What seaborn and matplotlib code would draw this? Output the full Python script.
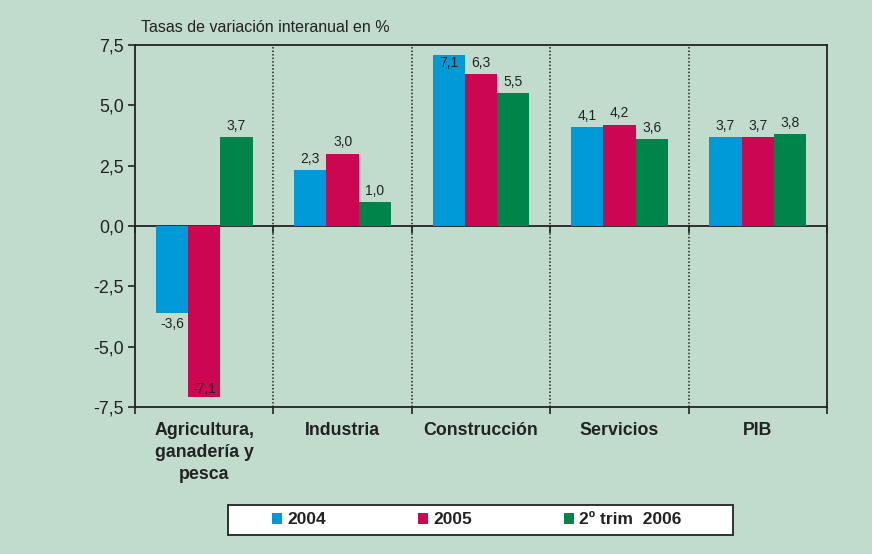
import pandas as pd
import matplotlib.pyplot as plt
import seaborn as sns
from matplotlib.patches import Rectangle
from matplotlib.ticker import FuncFormatter, FixedLocator

sns.set_theme(style="white")
plt.rcParams['font.family'] = ['Liberation Sans', 'DejaVu Sans']

# Data
categories = ["Agricultura,\nganadería y\npesca", "Industria", "Construcción", "Servicios", "PIB"]
series = ["2004", "2005", "2º trim  2006"]
v2004 = [-3.6, 2.3, 7.1, 4.1, 3.7]
v2005 = [-7.1, 3.0, 6.3, 4.2, 3.7]
v2006 = [3.7, 1.0, 5.5, 3.6, 3.8]
colors = ["#0099d8", "#cc0651", "#00844a"]

bg = "#c1dccc"
ink = "#222222"

df = pd.DataFrame({
    "Sector": categories * 3,
    "Serie": [series[0]] * 5 + [series[1]] * 5 + [series[2]] * 5,
    "Valor": v2004 + v2005 + v2006,
})

fig = plt.figure(figsize=(8.72, 5.54), dpi=100, facecolor=bg)
ax = fig.add_axes([135 / 872, 1 - 407 / 554, 692 / 872, 362 / 554])
ax.set_facecolor(bg)

sns.barplot(data=df, x="Sector", y="Valor", hue="Serie", hue_order=series,
            order=categories, palette=colors, saturation=1, width=0.7,
            linewidth=0, errorbar=None, ax=ax)

ymin, ymax = -7.5, 7.5
ax.set_ylim(ymin, ymax)
ax.set_xlim(-0.5, len(categories) - 0.5)

# value labels (inside the bar when it would run past the frame)
for cont in ax.containers:
    for bar in cont:
        h = bar.get_height()
        xc = bar.get_x() + bar.get_width() / 2
        txt = f"{h:.1f}".replace(".", ",")
        if h >= 0 and h + 0.8 > ymax:
            off, va = -1, "top"
        elif h >= 0:
            off, va = 3, "bottom"
        elif h - 0.8 < ymin:
            off, va = 1, "bottom"
        else:
            off, va = -3, "top"
        ax.annotate(txt, (xc, h), xytext=(0, off), textcoords="offset points",
                    ha="center", va=va, fontsize=10, color=ink)

# y axis
ax.yaxis.set_major_locator(FixedLocator([-7.5, -5, -2.5, 0, 2.5, 5, 7.5]))
ax.yaxis.set_major_formatter(FuncFormatter(lambda v, p: f"{v:.1f}".replace(".", ",")))
ax.tick_params(axis="y", direction="out", length=5, width=1.2, color=ink,
               labelsize=12.8, labelcolor=ink, pad=3, left=True)

# x axis: boundary ticks, category labels centred
bounds = [i - 0.5 for i in range(len(categories) + 1)]
ax.xaxis.set_major_locator(FixedLocator(bounds))
ax.xaxis.set_minor_locator(FixedLocator(range(len(categories))))
ax.set_xticklabels([""] * len(bounds))
ax.set_xticklabels(categories, minor=True)
ax.tick_params(axis="x", which="major", direction="out", length=5, width=1.2,
               color=ink, bottom=True)
ax.tick_params(axis="x", which="minor", length=0, labelsize=12.8, labelcolor=ink, pad=11)
for lab in ax.get_xticklabels(minor=True):
    lab.set_fontweight("bold")
    lab.set_linespacing(1.38)
ax.set_xlabel("")
ax.set_ylabel("")

for s in ax.spines.values():
    s.set_visible(True)
    s.set_color(ink)
    s.set_linewidth(1.3)

# zero line with boundary ticks pointing down
zero = ax.secondary_xaxis(0.5)
zero.set_alignment("bottom")
zero.set_xticks(bounds)
zero.set_xticklabels([""] * len(bounds))
zero.tick_params(direction="out", length=5, width=1.2, color=ink)
zero.spines["bottom"].set_color(ink)
zero.spines["bottom"].set_linewidth(1.3)

for b in bounds[1:-1]:
    ax.axvline(b, color="#222222", linestyle=(0, (1, 1.3)), linewidth=1.1, zorder=0)

fig.text(141 / 872, 1 - 28 / 554, "Tasas de variación interanual en %",
         fontsize=11.5, color=ink, ha="left", va="center")

# legend in a white box below the chart
handles, labels = ax.get_legend_handles_labels()
ax.get_legend().remove()
fig.patches.append(Rectangle((228 / 872, 1 - 535 / 554), 505 / 872, 30 / 554,
                             transform=fig.transFigure, facecolor="white",
                             edgecolor=ink, linewidth=1.3, zorder=1))
leg = fig.legend(handles, labels, loc="center", ncol=3,
                 bbox_to_anchor=(477 / 872, 1 - 520 / 554),
                 frameon=False, handlelength=0.57, handleheight=0.57,
                 handletextpad=0.3, columnspacing=5.3,
                 prop={"weight": "bold", "size": 12.5})
for t in leg.get_texts():
    t.set_color(ink)

fig.savefig("out.png", dpi=100, facecolor=bg)
